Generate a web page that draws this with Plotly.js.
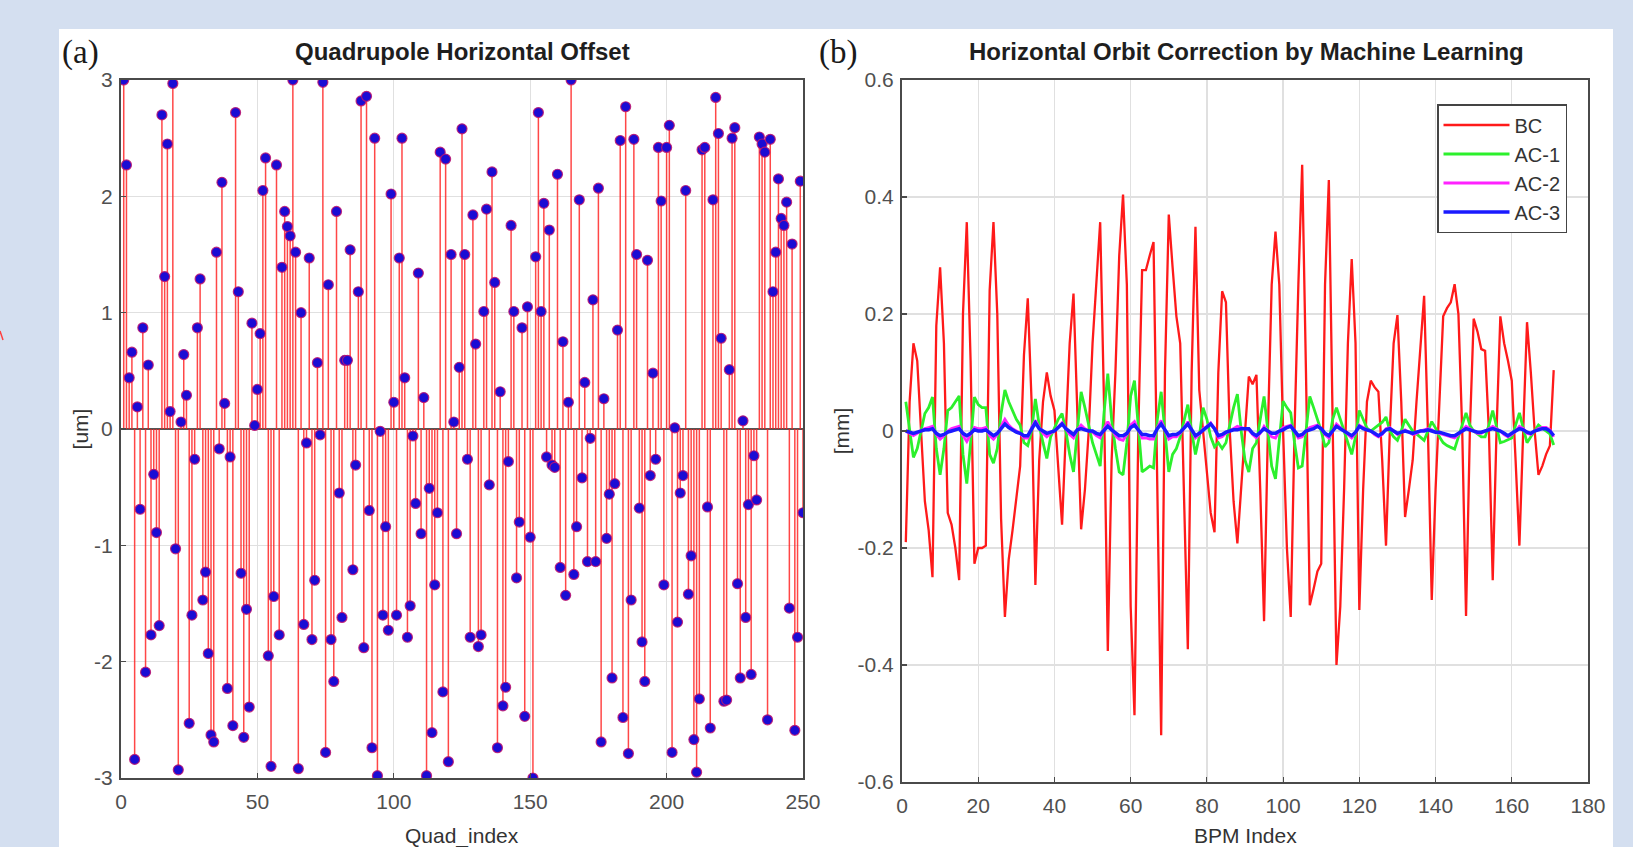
<!DOCTYPE html>
<html>
<head>
<meta charset="utf-8">
<script src="https://cdn.plot.ly/plotly-3.0.1.min.js"></script>
<style>
  html, body { margin: 0; padding: 0; background: #d4dff0; }
  #chart { width: 1633px; height: 847px; }
</style>
</head>
<body>
<div id="chart"></div>
<script>
// ---------------- DATA ----------------
// Panel (a): quadrupole horizontal offsets [um], Quad index 1..250
const quadIndex = Array.from({length: 250}, (_, i) => i + 1);
const quadOffset = [
  3.0, 2.27, 0.44, 0.66, -2.84, 0.19, -0.69, 0.87, -2.09, 0.55,
  -1.77, -0.39, -0.89, -1.69, 2.70, 1.31, 2.45, 0.15, 2.97, -1.03,
  -2.93, 0.06, 0.64, 0.29, -2.53, -1.60, -0.26, 0.87, 1.29, -1.47,
  -1.23, -1.93, -2.63, -2.69, 1.52, -0.17, 2.12, 0.22, -2.23, -0.24,
  -2.55, 2.72, 1.18, -1.24, -2.65, -1.55, -2.39, 0.91, 0.03, 0.34,
  0.82, 2.05, 2.33, -1.95, -2.90, -1.44, 2.27, -1.77, 1.39, 1.87,
  1.74, 1.66, 3.0, 1.52, -2.92, 1.00, -1.68, -0.12, 1.47, -1.81,
  -1.30, 0.57, -0.05, 2.98, -2.78, 1.24, -1.81, -2.17, 1.87, -0.55,
  -1.62, 0.59, 0.59, 1.54, -1.21, -0.31, 1.18, 2.82, -1.88, 2.86,
  -0.70, -2.74, 2.50, -2.98, -0.02, -1.60, -0.84, -1.73, 2.02, 0.23,
  -1.60, 1.47, 2.50, 0.44, -1.79, -1.52, -0.06, -0.64, 1.34, -0.90,
  0.27, -2.98, -0.51, -2.61, -1.34, -0.72, 2.38, -2.26, 2.32, -2.86,
  1.50, 0.06, -0.90, 0.53, 2.58, 1.50, -0.26, -1.79, 1.84, 0.73,
  -1.87, -1.77, 1.01, 1.89, -0.48, 2.21, 1.26, -2.74, 0.32, -2.38,
  -2.22, -0.28, 1.75, 1.01, -1.28, -0.80, 0.87, -2.47, 1.05, -0.93,
  -3.0, 1.48, 2.72, 1.01, 1.94, -0.24, 1.71, -0.31, -0.33, 2.19,
  -1.19, 0.75, -1.43, 0.23, 3.0, -1.25, -0.84, 1.97, -0.42, 0.40,
  -1.14, -0.08, 1.11, -1.14, 2.07, -2.69, 0.26, -0.94, -0.56, -2.14,
  -0.47, 0.85, 2.48, -2.48, 2.77, -2.79, -1.47, 2.49, 1.50, -0.68,
  -1.83, -2.17, 1.45, -0.40, 0.48, -0.26, 2.42, 1.96, -1.34, 2.42,
  2.61, -2.78, 0.01, -1.66, -0.55, -0.40, 2.05, -1.42, -1.09, -2.67,
  -2.95, -2.32, 2.40, 2.42, -0.67, -2.57, 1.97, 2.85, 2.54, 0.78,
  -2.34, -2.33, 0.51, 2.50, 2.59, -1.33, -2.14, 0.07, -1.62, -0.65,
  -2.11, -0.23, -0.61, 2.51, 2.45, 2.38, -2.50, 2.49, 1.18, 1.52,
  2.15, 1.81, 1.75, 1.95, -1.54, 1.59, -2.59, -1.79, 2.13, -0.72
];
const quadXTicks = [0, 50, 100, 150, 200, 250];
const quadXLabels = ['0', '50', '100', '150', '200', '250'];
const quadYTicks = [-3, -2, -1, 0, 1, 2, 3];
const quadYLabels = ['-3', '-2', '-1', '0', '1', '2', '3'];

// Panel (b): horizontal orbit [mm], BPM index 1..171
const bpmIndex = Array.from({length: 171}, (_, i) => i + 1);
const orbitBC = [
  -0.19, 0.05, 0.15, 0.12, 0.0, -0.12, -0.17, -0.25, 0.18, 0.28,
  0.15, -0.14, -0.16, -0.2, -0.255, 0.2, 0.357, 0.12, -0.227, -0.2,
  -0.2, -0.196, 0.24, 0.357, 0.2, -0.15, -0.318, -0.22, -0.17, -0.11,
  -0.06, 0.13, 0.227, 0.05, -0.263, -0.05, 0.05, 0.10, 0.06, 0.035,
  -0.07, -0.16, 0.0, 0.15, 0.235, 0.05, -0.168, -0.1, 0.0, 0.15,
  0.25, 0.357, 0.05, -0.376, -0.05, 0.1, 0.3, 0.404, 0.25, -0.3,
  -0.486, 0.0, 0.275, 0.275, 0.30, 0.323, -0.1, -0.52, 0.1, 0.37,
  0.28, 0.196, 0.15, -0.1, -0.373, 0.1, 0.349, 0.07, 0.0, -0.08,
  -0.14, -0.173, 0.1, 0.239, 0.22, 0.0, -0.12, -0.192, -0.1, 0.0,
  0.093, 0.08, 0.096, -0.1, -0.325, 0.0, 0.25, 0.341, 0.25, 0.0,
  -0.2, -0.318, 0.0, 0.25, 0.455, 0.1, -0.298, -0.27, -0.24, -0.227,
  0.25, 0.429, 0.0, -0.40, -0.3, -0.1, 0.15, 0.294, 0.15, -0.306,
  -0.1, 0.05, 0.086, 0.075, 0.067, -0.05, -0.196, 0.0, 0.15, 0.198,
  0.05, -0.147, -0.1, -0.05, 0.05, 0.15, 0.231, 0.0, -0.289, -0.1,
  0.05, 0.196, 0.21, 0.22, 0.251, 0.2, 0.0, -0.316, 0.0, 0.192,
  0.17, 0.14, 0.137, 0.0, -0.255, 0.0, 0.196, 0.15, 0.12, 0.086,
  -0.05, -0.196, 0.0, 0.186, 0.1, 0.0, -0.075, -0.06, -0.04, -0.025,
  0.104
];
const orbitAC1 = [
  0.05, 0.0, -0.045, -0.03, 0.0, 0.03, 0.04, 0.058, -0.03, -0.075,
  -0.03, 0.035, 0.04, 0.05, 0.06, -0.04, -0.09, -0.02, 0.058, 0.045,
  0.04, 0.04, -0.04, -0.055, -0.03, 0.03, 0.07, 0.05, 0.035, 0.02,
  0.01, -0.02, -0.025, 0.0, 0.055, 0.01, -0.02, -0.047, -0.01, 0.005,
  0.02, 0.03, 0.0, -0.04, -0.07, 0.0, 0.067, 0.04, 0.01, -0.02,
  -0.04, -0.06, 0.03, 0.098, 0.02, -0.03, -0.07, -0.075, -0.02, 0.06,
  0.086, 0.0, -0.07, -0.065, -0.06, -0.063, 0.02, 0.067, 0.0, -0.07,
  -0.04, -0.03, -0.01, 0.02, 0.045, 0.0, -0.04, -0.01, 0.04, 0.02,
  -0.01, -0.027, -0.02, -0.03, -0.02, 0.01, 0.04, 0.063, 0.0, -0.05,
  -0.07, -0.03, -0.02, 0.02, 0.059, 0.0, -0.06, -0.082, -0.01, 0.051,
  0.04, 0.031, -0.02, -0.063, -0.06, 0.0, 0.059, 0.04, 0.02, 0.0,
  -0.027, -0.02, 0.02, 0.04, 0.02, 0.0, -0.02, -0.04, -0.01, 0.035,
  0.02, 0.005, 0.0, 0.005, 0.01, 0.015, 0.024, 0.0, -0.01, -0.016,
  0.0, 0.02, 0.01, 0.0, -0.005, -0.01, -0.016, 0.0, 0.016, 0.005,
  -0.01, -0.02, -0.025, -0.028, -0.031, -0.01, 0.01, 0.031, 0.01, 0.0,
  -0.005, -0.01, -0.01, 0.01, 0.035, 0.005, -0.02, -0.018, -0.015, -0.012,
  0.01, 0.031, 0.005, -0.02, -0.01, 0.0, 0.01, 0.005, 0.0, -0.005,
  -0.024
];
const orbitAC2 = [
  0.0, -0.004, -0.008, -0.004, 0.0, 0.004, 0.006, 0.008, -0.006, -0.014,
  -0.008, 0.0, 0.004, 0.006, 0.008, -0.008, -0.018, -0.006, 0.006, 0.004,
  0.004, 0.006, -0.008, -0.014, -0.006, 0.008, 0.02, 0.01, 0.004, 0.0,
  -0.004, -0.012, -0.012, 0.006, 0.018, 0.006, -0.004, -0.01, -0.004, 0.0,
  0.008, 0.014, 0.004, -0.006, -0.012, 0.002, 0.01, 0.004, 0.0, -0.002,
  -0.008, -0.012, 0.004, 0.016, 0.004, -0.008, -0.014, -0.016, -0.006, 0.01,
  0.016, 0.002, -0.012, -0.012, -0.014, -0.014, 0.006, 0.018, 0.002, -0.014,
  -0.01, -0.01, -0.004, 0.006, 0.016, 0.002, -0.012, -0.006, 0.004, 0.008,
  0.014, 0.004, -0.012, -0.01, -0.004, 0.0, 0.004, 0.008, 0.006, 0.004,
  0.002, -0.006, -0.012, -0.004, 0.008, 0.0, -0.01, -0.012, 0.0, 0.006,
  0.008, 0.01, 0.0, -0.012, -0.01, 0.0, 0.006, 0.008, 0.01, 0.004,
  -0.006, -0.012, 0.0, 0.012, 0.006, 0.0, -0.006, -0.012, -0.004, 0.01,
  0.006, 0.002, 0.0, -0.006, -0.01, -0.006, 0.004, 0.006, 0.0, -0.006,
  -0.002, 0.002, -0.002, -0.006, -0.004, 0.0, 0.002, 0.004, 0.002, -0.002,
  -0.004, -0.006, -0.008, -0.01, -0.012, -0.006, 0.002, 0.008, 0.004, 0.0,
  -0.004, -0.004, 0.0, 0.004, 0.008, 0.004, 0.0, -0.006, -0.01, -0.006,
  0.0, 0.008, 0.004, -0.004, -0.006, 0.0, 0.004, 0.006, 0.006, 0.002,
  -0.01
];
const orbitAC3 = [
  0.0, -0.002, -0.004, -0.002, 0.0, 0.002, 0.002, 0.004, -0.004, -0.008,
  -0.006, -0.002, 0.0, 0.002, 0.004, -0.004, -0.008, -0.004, 0.002, 0.0,
  0.0, 0.002, -0.004, -0.008, -0.004, 0.004, 0.012, 0.006, 0.002, -0.002,
  -0.004, -0.008, -0.008, 0.004, 0.014, 0.004, 0.0, -0.004, -0.002, 0.0,
  0.006, 0.012, 0.004, -0.002, -0.006, 0.002, 0.004, 0.002, 0.0, 0.0,
  -0.004, -0.006, 0.002, 0.008, 0.002, -0.004, -0.008, -0.008, -0.004, 0.006,
  0.010, 0.002, -0.006, -0.006, -0.008, -0.008, 0.004, 0.012, 0.002, -0.008,
  -0.006, -0.006, -0.002, 0.004, 0.012, 0.002, -0.008, -0.004, 0.002, 0.006,
  0.012, 0.004, -0.008, -0.006, -0.002, 0.0, 0.002, 0.002, 0.004, 0.004,
  0.004, -0.004, -0.008, -0.002, 0.004, 0.0, -0.004, -0.004, 0.0, 0.002,
  0.006, 0.008, 0.0, -0.008, -0.006, 0.0, 0.002, 0.004, 0.008, 0.004,
  -0.004, -0.008, 0.0, 0.008, 0.004, 0.0, -0.004, -0.008, -0.002, 0.008,
  0.004, 0.002, 0.0, -0.004, -0.008, -0.004, 0.002, 0.004, 0.0, -0.004,
  -0.002, 0.0, -0.002, -0.004, -0.002, 0.0, 0.0, 0.002, 0.0, -0.002,
  -0.002, -0.004, -0.006, -0.008, -0.008, -0.004, 0.0, 0.004, 0.002, 0.0,
  -0.002, -0.002, 0.0, 0.002, 0.004, 0.002, 0.0, -0.004, -0.008, -0.004,
  0.0, 0.004, 0.002, -0.002, -0.004, 0.0, 0.002, 0.004, 0.004, 0.0,
  -0.008
];
const orbitXTicks = [0, 20, 40, 60, 80, 100, 120, 140, 160, 180];
const orbitXLabels = ['0', '20', '40', '60', '80', '100', '120', '140', '160', '180'];
const orbitYTicks = [-0.6, -0.4, -0.2, 0, 0.2, 0.4, 0.6];
const orbitYLabels = ['-0.6', '-0.4', '-0.2', '0', '0.2', '0.4', '0.6'];

// ---------------- LAYOUT HELPERS ----------------
const W = 1633, H = 847;
const px = x => x / W;
const py = y => 1 - y / H;

const sans = 'Liberation Sans, Arial, sans-serif';
const tickFont = {family: sans, size: 21, color: '#505050'};
const axisTitleFont = {family: sans, size: 21, color: '#333333'};

// stems for panel (a), built from the data arrays
const stemX = [], stemY = [];
quadIndex.forEach((q, i) => { stemX.push(q, q, null); stemY.push(0, quadOffset[i], null); });

const traces = [
  {x: stemX, y: stemY, xaxis: 'x', yaxis: 'y', mode: 'lines', type: 'scatter',
   line: {color: 'rgba(255,25,25,0.8)', width: 1.5}, showlegend: false, hoverinfo: 'skip'},
  {x: quadIndex, y: quadOffset, xaxis: 'x', yaxis: 'y', mode: 'markers', type: 'scatter',
   marker: {size: 10, color: '#1a0cd4', line: {color: 'rgba(190,20,110,0.85)', width: 1.2}}, showlegend: false},
  {x: bpmIndex, y: orbitBC, xaxis: 'x2', yaxis: 'y2', mode: 'lines', name: 'BC', legendgroup: 'a',
   line: {color: '#ff1a1a', width: 2.3}},
  {x: bpmIndex, y: orbitAC1, xaxis: 'x2', yaxis: 'y2', mode: 'lines', name: 'AC-1', legendgroup: 'b',
   line: {color: '#2cf02c', width: 2.8}},
  {x: bpmIndex, y: orbitAC2, xaxis: 'x2', yaxis: 'y2', mode: 'lines', name: 'AC-2', legendgroup: 'c',
   line: {color: '#ff22ff', width: 2.8}},
  {x: bpmIndex, y: orbitAC3, xaxis: 'x2', yaxis: 'y2', mode: 'lines', name: 'AC-3', legendgroup: 'd',
   line: {color: '#1a1aff', width: 3.5}}
];

const axisCommon = {
  showline: true, linecolor: '#4a4a4a', linewidth: 2, mirror: true,
  ticks: 'inside', ticklen: 5, tickcolor: '#4a4a4a', tickwidth: 1.2,
  showgrid: true, gridcolor: '#e0e0e0', gridwidth: 1.3,
  tickfont: tickFont, tickmode: 'array', fixedrange: true
};

const layout = {
  width: W, height: H, autosize: false,
  margin: {l: 0, r: 0, t: 0, b: 0, pad: 0},
  paper_bgcolor: '#d4dff0', plot_bgcolor: '#ffffff',
  showlegend: true,
  legend: {
    x: px(1437), y: py(104), xanchor: 'left', yanchor: 'top',
    bgcolor: '#ffffff', bordercolor: '#444444', borderwidth: 1.5,
    font: {family: sans, size: 20, color: '#333333'},
    tracegroupgap: 4, traceorder: 'normal', itemwidth: 66
  },
  xaxis: Object.assign({}, axisCommon, {
    domain: [px(121), px(803)], range: [0, 250], anchor: 'y',
    tickvals: quadXTicks, ticktext: quadXLabels, zeroline: false, ticklabelstandoff: 4
  }),
  yaxis: Object.assign({}, axisCommon, {
    domain: [py(778), py(80)], range: [-3, 3], anchor: 'x',
    tickvals: quadYTicks, ticktext: quadYLabels,
    zeroline: true, zerolinecolor: '#555555', zerolinewidth: 2, ticklabelstandoff: 2,
    title: {text: '[um]', font: axisTitleFont, standoff: 0}
  }),
  xaxis2: Object.assign({}, axisCommon, {
    domain: [px(902), px(1588)], range: [0, 180], anchor: 'y2',
    tickvals: orbitXTicks, ticktext: orbitXLabels, zeroline: false, ticklabelstandoff: 4
  }),
  yaxis2: Object.assign({}, axisCommon, {
    domain: [py(782), py(80)], range: [-0.6, 0.6], anchor: 'x2',
    tickvals: orbitYTicks, ticktext: orbitYLabels, zeroline: false, ticklabelstandoff: 2,
    title: {text: '[mm]', font: axisTitleFont, standoff: 2}
  }),
  shapes: [
    {type: 'rect', xref: 'paper', yref: 'paper', x0: px(59), x1: px(1613), y0: 0, y1: py(29),
     fillcolor: '#ffffff', line: {width: 0}, layer: 'below'},
    {type: 'line', xref: 'paper', yref: 'paper', x0: 0, x1: px(3), y0: py(331), y1: py(340),
     line: {color: '#ff4040', width: 1.5}}
  ],
  annotations: [
    {text: '<b>Quadrupole Horizontal Offset</b>', xref: 'paper', yref: 'paper', x: px(462), y: py(52),
     xanchor: 'center', yanchor: 'middle', showarrow: false,
     font: {family: sans, size: 24, color: '#1e1e1e'}},
    {text: '<b>Horizontal Orbit Correction by Machine Learning</b>', xref: 'paper', yref: 'paper', x: px(1246), y: py(52),
     xanchor: 'center', yanchor: 'middle', showarrow: false,
     font: {family: sans, size: 24, color: '#1e1e1e'}},
    {text: '(a)', xref: 'paper', yref: 'paper', x: px(80), y: py(53),
     xanchor: 'center', yanchor: 'middle', showarrow: false,
     font: {family: 'Liberation Serif, Times New Roman, serif', size: 33, color: '#1a1a1a'}},
    {text: '(b)', xref: 'paper', yref: 'paper', x: px(838), y: py(53),
     xanchor: 'center', yanchor: 'middle', showarrow: false,
     font: {family: 'Liberation Serif, Times New Roman, serif', size: 33, color: '#1a1a1a'}},
    {text: 'Quad_index', xref: 'paper', yref: 'paper', x: px(462), y: py(822),
     xanchor: 'center', yanchor: 'top', showarrow: false, font: axisTitleFont},
    {text: 'BPM Index', xref: 'paper', yref: 'paper', x: px(1245), y: py(822),
     xanchor: 'center', yanchor: 'top', showarrow: false, font: axisTitleFont}
  ]
};

Plotly.newPlot('chart', traces, layout, {displayModeBar: false, staticPlot: true});
</script>
</body>
</html>
